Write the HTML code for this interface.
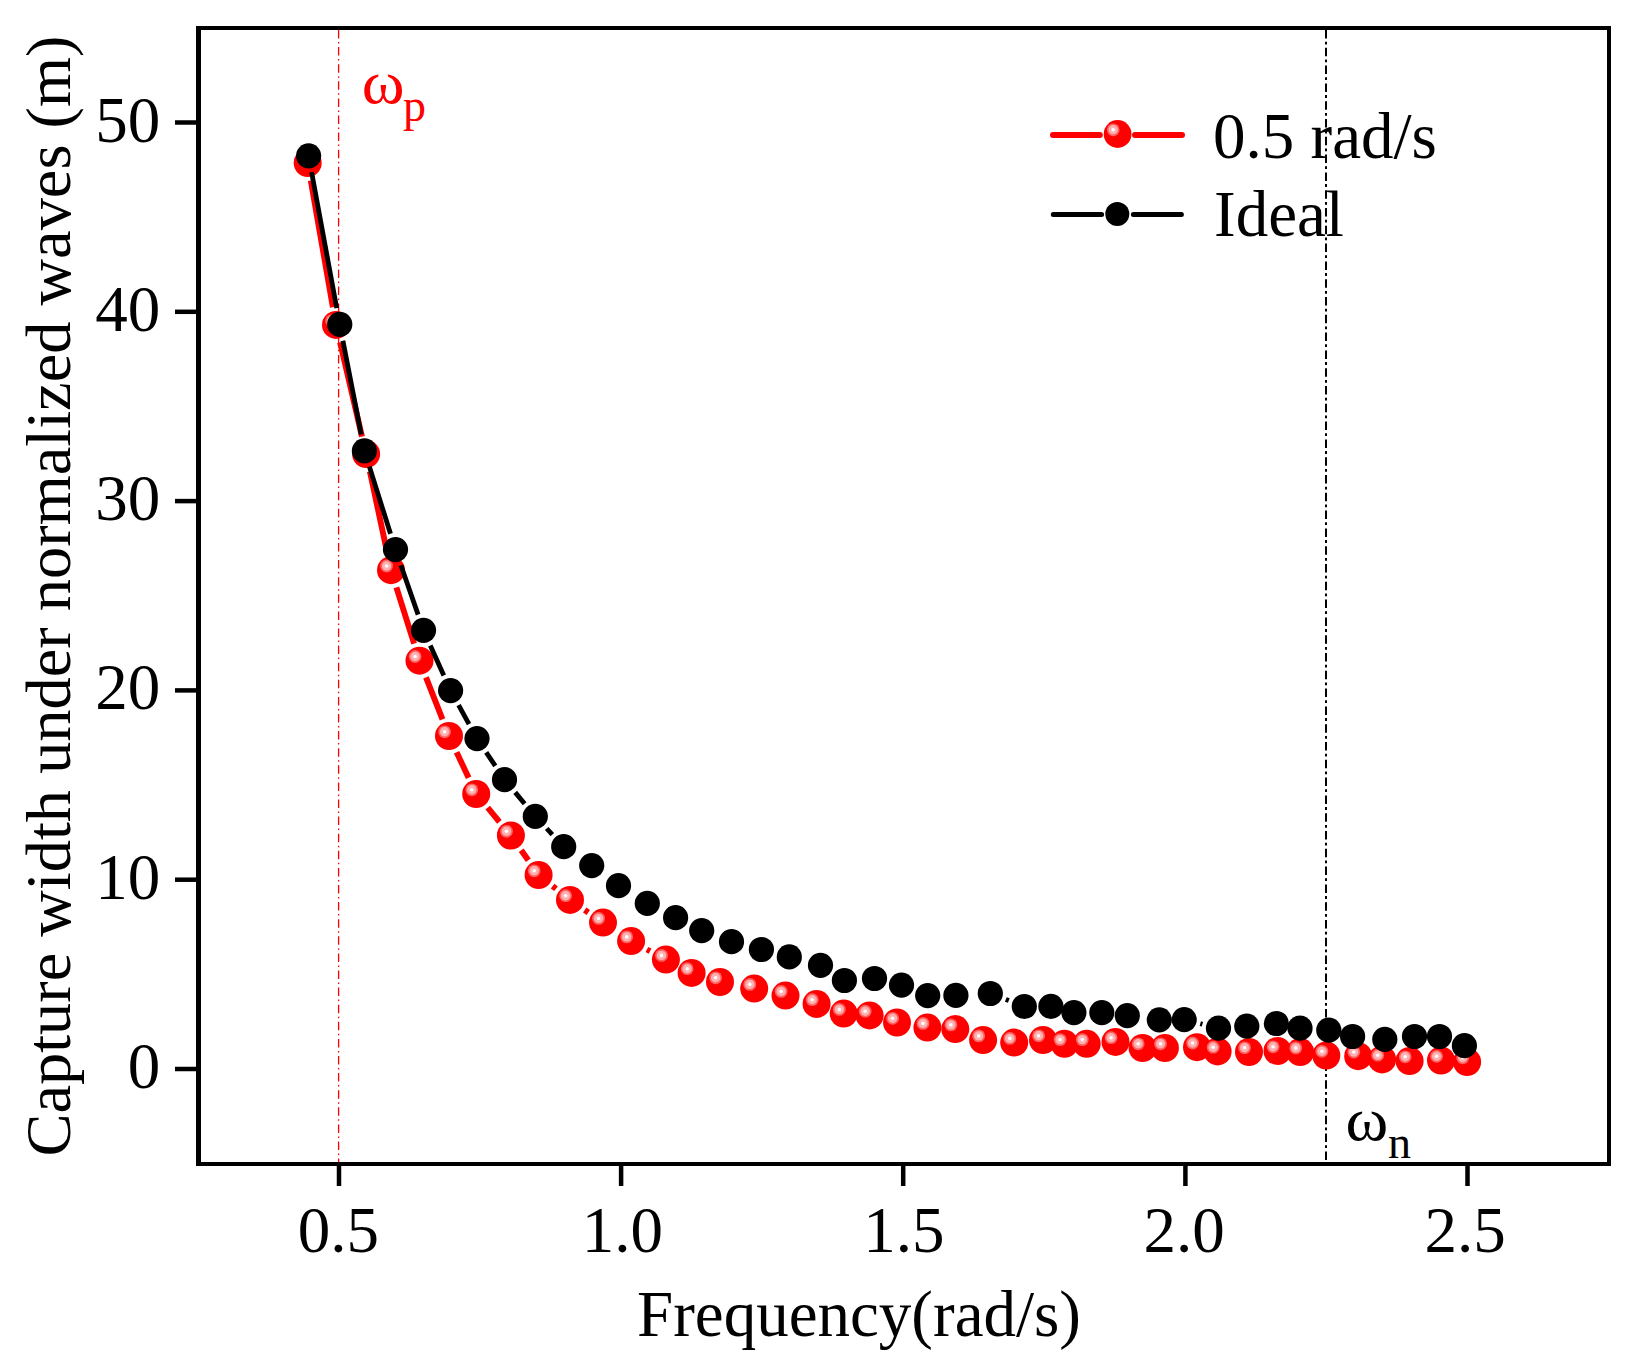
<!DOCTYPE html>
<html><head><meta charset="utf-8"><title>Capture width</title>
<style>html,body{margin:0;padding:0;background:#fff}svg{display:block}</style></head>
<body>
<svg width="1634" height="1372" viewBox="0 0 1634 1372" font-family="'Liberation Serif', 'Times New Roman', serif" font-size="65">
<rect width="1634" height="1372" fill="#fff"/>
<path d="M1053 135.1H1099.8M1135 135.1H1182" stroke="#f00" stroke-width="6" stroke-linecap="round"/>
<circle cx="1117.6" cy="134.0" r="13.9" fill="#f00"/><circle cx="1113.2" cy="129.8" r="6.4" fill="#ff6262"/><circle cx="1113.2" cy="129.8" r="4.7" fill="#ffb0b0"/><circle cx="1113.2" cy="129.8" r="1.8" fill="#fff"/>
<path d="M1053.3 214.5H1101.6M1133.4 214.5H1181.4" stroke="#000" stroke-width="5" stroke-linecap="round"/>
<circle cx="1117.3" cy="214.0" r="12" fill="#000"/>
<text x="1213" y="157.5">0.5 rad/s</text>
<text x="1214" y="236">Ideal</text>
<line x1="338.6" y1="30" x2="338.6" y2="1162" stroke="#f00" stroke-width="1.3" stroke-dasharray="8.5 3.5 1.5 3.6"/>
<line x1="1326" y1="30" x2="1326" y2="1162" stroke="#000" stroke-width="2" stroke-dasharray="8.5 3.2 2.8 3.3"/>
<path d="M196 26H1611V1166H196ZM201 30V1162H1607V30Z" fill="#000" fill-rule="evenodd"/>
<line x1="175" y1="1069.0" x2="197" y2="1069.0" stroke="#000" stroke-width="4.5"/>
<text x="160.3" y="1088.0" text-anchor="end">0</text>
<line x1="175" y1="879.7" x2="197" y2="879.7" stroke="#000" stroke-width="4.5"/>
<text x="160.3" y="898.7" text-anchor="end">10</text>
<line x1="175" y1="690.4" x2="197" y2="690.4" stroke="#000" stroke-width="4.5"/>
<text x="160.3" y="709.4" text-anchor="end">20</text>
<line x1="175" y1="501.1" x2="197" y2="501.1" stroke="#000" stroke-width="4.5"/>
<text x="160.3" y="520.1" text-anchor="end">30</text>
<line x1="175" y1="311.8" x2="197" y2="311.8" stroke="#000" stroke-width="4.5"/>
<text x="160.3" y="330.8" text-anchor="end">40</text>
<line x1="175" y1="122.5" x2="197" y2="122.5" stroke="#000" stroke-width="4.5"/>
<text x="160.3" y="141.5" text-anchor="end">50</text>
<line x1="339.0" y1="1165" x2="339.0" y2="1186" stroke="#000" stroke-width="4.5"/>
<text x="338.3" y="1251.6" text-anchor="middle">0.5</text>
<line x1="621.1" y1="1165" x2="621.1" y2="1186" stroke="#000" stroke-width="4.5"/>
<text x="622.4" y="1251.6" text-anchor="middle">1.0</text>
<line x1="903.2" y1="1165" x2="903.2" y2="1186" stroke="#000" stroke-width="4.5"/>
<text x="903.8" y="1251.6" text-anchor="middle">1.5</text>
<line x1="1185.4" y1="1165" x2="1185.4" y2="1186" stroke="#000" stroke-width="4.5"/>
<text x="1184.0" y="1251.6" text-anchor="middle">2.0</text>
<line x1="1467.5" y1="1165" x2="1467.5" y2="1186" stroke="#000" stroke-width="4.5"/>
<text x="1465.1" y="1251.6" text-anchor="middle">2.5</text>
<text x="859" y="1335.5" text-anchor="middle">Frequency(rad/s)</text>
<text transform="translate(70,596) rotate(-90)" text-anchor="middle" font-size="64.4">Capture width under normalized waves (m)</text>
<text transform="translate(361.8,103.4) scale(1,0.95)" fill="#f00">ω</text><text x="403" y="120.6" font-size="46" fill="#f00">p</text>
<text transform="translate(1345.5,1140) scale(1,0.93)" fill="#000">ω</text><text x="1388" y="1157.5" font-size="46" fill="#000">n</text>
<path d="M310.8 180.6L332.9 307.3M340.1 342.3L362.0 436.6M369.9 471.5L387.2 552.7M396.4 587.3L414.1 643.6M426.0 677.4L442.5 719.3M456.6 752.2L468.6 777.8M487.7 807.7L499.4 821.8M521.2 850.2L528.3 860.3M552.6 886.1L556.0 888.8M584.7 910.0L588.3 912.5M646.9 949.5L650.1 951.2" stroke="#f00" stroke-width="5.9" fill="none"/>
<circle cx="307.7" cy="163.0" r="14" fill="#f00"/><circle cx="303.3" cy="158.8" r="6.4" fill="#ff6262"/><circle cx="303.3" cy="158.8" r="4.7" fill="#ffb0b0"/><circle cx="303.3" cy="158.8" r="1.8" fill="#fff"/>
<circle cx="336.0" cy="324.9" r="14" fill="#f00"/><circle cx="331.6" cy="320.7" r="6.4" fill="#ff6262"/><circle cx="331.6" cy="320.7" r="4.7" fill="#ffb0b0"/><circle cx="331.6" cy="320.7" r="1.8" fill="#fff"/>
<circle cx="366.1" cy="454.0" r="14" fill="#f00"/><circle cx="361.7" cy="449.8" r="6.4" fill="#ff6262"/><circle cx="361.7" cy="449.8" r="4.7" fill="#ffb0b0"/><circle cx="361.7" cy="449.8" r="1.8" fill="#fff"/>
<circle cx="391.0" cy="570.2" r="14" fill="#f00"/><circle cx="386.6" cy="566.0" r="6.4" fill="#ff6262"/><circle cx="386.6" cy="566.0" r="4.7" fill="#ffb0b0"/><circle cx="386.6" cy="566.0" r="1.8" fill="#fff"/>
<circle cx="419.5" cy="660.7" r="14" fill="#f00"/><circle cx="415.1" cy="656.5" r="6.4" fill="#ff6262"/><circle cx="415.1" cy="656.5" r="4.7" fill="#ffb0b0"/><circle cx="415.1" cy="656.5" r="1.8" fill="#fff"/>
<circle cx="449.0" cy="736.0" r="14" fill="#f00"/><circle cx="444.6" cy="731.8" r="6.4" fill="#ff6262"/><circle cx="444.6" cy="731.8" r="4.7" fill="#ffb0b0"/><circle cx="444.6" cy="731.8" r="1.8" fill="#fff"/>
<circle cx="476.2" cy="794.0" r="14" fill="#f00"/><circle cx="471.8" cy="789.8" r="6.4" fill="#ff6262"/><circle cx="471.8" cy="789.8" r="4.7" fill="#ffb0b0"/><circle cx="471.8" cy="789.8" r="1.8" fill="#fff"/>
<circle cx="510.9" cy="835.5" r="14" fill="#f00"/><circle cx="506.5" cy="831.3" r="6.4" fill="#ff6262"/><circle cx="506.5" cy="831.3" r="4.7" fill="#ffb0b0"/><circle cx="506.5" cy="831.3" r="1.8" fill="#fff"/>
<circle cx="538.6" cy="875.0" r="14" fill="#f00"/><circle cx="534.2" cy="870.8" r="6.4" fill="#ff6262"/><circle cx="534.2" cy="870.8" r="4.7" fill="#ffb0b0"/><circle cx="534.2" cy="870.8" r="1.8" fill="#fff"/>
<circle cx="570.0" cy="899.9" r="14" fill="#f00"/><circle cx="565.6" cy="895.7" r="6.4" fill="#ff6262"/><circle cx="565.6" cy="895.7" r="4.7" fill="#ffb0b0"/><circle cx="565.6" cy="895.7" r="1.8" fill="#fff"/>
<circle cx="603.0" cy="922.6" r="14" fill="#f00"/><circle cx="598.6" cy="918.4" r="6.4" fill="#ff6262"/><circle cx="598.6" cy="918.4" r="4.7" fill="#ffb0b0"/><circle cx="598.6" cy="918.4" r="1.8" fill="#fff"/>
<circle cx="631.1" cy="941.1" r="14" fill="#f00"/><circle cx="626.7" cy="936.9" r="6.4" fill="#ff6262"/><circle cx="626.7" cy="936.9" r="4.7" fill="#ffb0b0"/><circle cx="626.7" cy="936.9" r="1.8" fill="#fff"/>
<circle cx="665.9" cy="959.6" r="14" fill="#f00"/><circle cx="661.5" cy="955.4" r="6.4" fill="#ff6262"/><circle cx="661.5" cy="955.4" r="4.7" fill="#ffb0b0"/><circle cx="661.5" cy="955.4" r="1.8" fill="#fff"/>
<circle cx="691.6" cy="972.9" r="14" fill="#f00"/><circle cx="687.2" cy="968.7" r="6.4" fill="#ff6262"/><circle cx="687.2" cy="968.7" r="4.7" fill="#ffb0b0"/><circle cx="687.2" cy="968.7" r="1.8" fill="#fff"/>
<circle cx="720.0" cy="982.0" r="14" fill="#f00"/><circle cx="715.6" cy="977.8" r="6.4" fill="#ff6262"/><circle cx="715.6" cy="977.8" r="4.7" fill="#ffb0b0"/><circle cx="715.6" cy="977.8" r="1.8" fill="#fff"/>
<circle cx="754.2" cy="988.6" r="14" fill="#f00"/><circle cx="749.8" cy="984.4" r="6.4" fill="#ff6262"/><circle cx="749.8" cy="984.4" r="4.7" fill="#ffb0b0"/><circle cx="749.8" cy="984.4" r="1.8" fill="#fff"/>
<circle cx="785.5" cy="995.6" r="14" fill="#f00"/><circle cx="781.1" cy="991.4" r="6.4" fill="#ff6262"/><circle cx="781.1" cy="991.4" r="4.7" fill="#ffb0b0"/><circle cx="781.1" cy="991.4" r="1.8" fill="#fff"/>
<circle cx="816.6" cy="1003.9" r="14" fill="#f00"/><circle cx="812.2" cy="999.7" r="6.4" fill="#ff6262"/><circle cx="812.2" cy="999.7" r="4.7" fill="#ffb0b0"/><circle cx="812.2" cy="999.7" r="1.8" fill="#fff"/>
<circle cx="843.7" cy="1013.6" r="14" fill="#f00"/><circle cx="839.3" cy="1009.4" r="6.4" fill="#ff6262"/><circle cx="839.3" cy="1009.4" r="4.7" fill="#ffb0b0"/><circle cx="839.3" cy="1009.4" r="1.8" fill="#fff"/>
<circle cx="869.6" cy="1015.4" r="14" fill="#f00"/><circle cx="865.2" cy="1011.2" r="6.4" fill="#ff6262"/><circle cx="865.2" cy="1011.2" r="4.7" fill="#ffb0b0"/><circle cx="865.2" cy="1011.2" r="1.8" fill="#fff"/>
<circle cx="897.0" cy="1022.5" r="14" fill="#f00"/><circle cx="892.6" cy="1018.3" r="6.4" fill="#ff6262"/><circle cx="892.6" cy="1018.3" r="4.7" fill="#ffb0b0"/><circle cx="892.6" cy="1018.3" r="1.8" fill="#fff"/>
<circle cx="927.4" cy="1027.6" r="14" fill="#f00"/><circle cx="923.0" cy="1023.4" r="6.4" fill="#ff6262"/><circle cx="923.0" cy="1023.4" r="4.7" fill="#ffb0b0"/><circle cx="923.0" cy="1023.4" r="1.8" fill="#fff"/>
<circle cx="955.3" cy="1029.1" r="14" fill="#f00"/><circle cx="950.9" cy="1024.9" r="6.4" fill="#ff6262"/><circle cx="950.9" cy="1024.9" r="4.7" fill="#ffb0b0"/><circle cx="950.9" cy="1024.9" r="1.8" fill="#fff"/>
<circle cx="983.1" cy="1040.1" r="14" fill="#f00"/><circle cx="978.7" cy="1035.9" r="6.4" fill="#ff6262"/><circle cx="978.7" cy="1035.9" r="4.7" fill="#ffb0b0"/><circle cx="978.7" cy="1035.9" r="1.8" fill="#fff"/>
<circle cx="1014.2" cy="1042.6" r="14" fill="#f00"/><circle cx="1009.8" cy="1038.4" r="6.4" fill="#ff6262"/><circle cx="1009.8" cy="1038.4" r="4.7" fill="#ffb0b0"/><circle cx="1009.8" cy="1038.4" r="1.8" fill="#fff"/>
<circle cx="1043.0" cy="1040.0" r="14" fill="#f00"/><circle cx="1038.6" cy="1035.8" r="6.4" fill="#ff6262"/><circle cx="1038.6" cy="1035.8" r="4.7" fill="#ffb0b0"/><circle cx="1038.6" cy="1035.8" r="1.8" fill="#fff"/>
<circle cx="1064.5" cy="1043.8" r="14" fill="#f00"/><circle cx="1060.1" cy="1039.6" r="6.4" fill="#ff6262"/><circle cx="1060.1" cy="1039.6" r="4.7" fill="#ffb0b0"/><circle cx="1060.1" cy="1039.6" r="1.8" fill="#fff"/>
<circle cx="1086.7" cy="1043.8" r="14" fill="#f00"/><circle cx="1082.3" cy="1039.6" r="6.4" fill="#ff6262"/><circle cx="1082.3" cy="1039.6" r="4.7" fill="#ffb0b0"/><circle cx="1082.3" cy="1039.6" r="1.8" fill="#fff"/>
<circle cx="1115.5" cy="1041.9" r="14" fill="#f00"/><circle cx="1111.1" cy="1037.7" r="6.4" fill="#ff6262"/><circle cx="1111.1" cy="1037.7" r="4.7" fill="#ffb0b0"/><circle cx="1111.1" cy="1037.7" r="1.8" fill="#fff"/>
<circle cx="1142.6" cy="1048.0" r="14" fill="#f00"/><circle cx="1138.2" cy="1043.8" r="6.4" fill="#ff6262"/><circle cx="1138.2" cy="1043.8" r="4.7" fill="#ffb0b0"/><circle cx="1138.2" cy="1043.8" r="1.8" fill="#fff"/>
<circle cx="1164.9" cy="1048.0" r="14" fill="#f00"/><circle cx="1160.5" cy="1043.8" r="6.4" fill="#ff6262"/><circle cx="1160.5" cy="1043.8" r="4.7" fill="#ffb0b0"/><circle cx="1160.5" cy="1043.8" r="1.8" fill="#fff"/>
<circle cx="1197.0" cy="1047.2" r="14" fill="#f00"/><circle cx="1192.6" cy="1043.0" r="6.4" fill="#ff6262"/><circle cx="1192.6" cy="1043.0" r="4.7" fill="#ffb0b0"/><circle cx="1192.6" cy="1043.0" r="1.8" fill="#fff"/>
<circle cx="1217.6" cy="1051.4" r="14" fill="#f00"/><circle cx="1213.2" cy="1047.2" r="6.4" fill="#ff6262"/><circle cx="1213.2" cy="1047.2" r="4.7" fill="#ffb0b0"/><circle cx="1213.2" cy="1047.2" r="1.8" fill="#fff"/>
<circle cx="1249.0" cy="1052.0" r="14" fill="#f00"/><circle cx="1244.6" cy="1047.8" r="6.4" fill="#ff6262"/><circle cx="1244.6" cy="1047.8" r="4.7" fill="#ffb0b0"/><circle cx="1244.6" cy="1047.8" r="1.8" fill="#fff"/>
<circle cx="1277.5" cy="1051.0" r="14" fill="#f00"/><circle cx="1273.1" cy="1046.8" r="6.4" fill="#ff6262"/><circle cx="1273.1" cy="1046.8" r="4.7" fill="#ffb0b0"/><circle cx="1273.1" cy="1046.8" r="1.8" fill="#fff"/>
<circle cx="1300.2" cy="1052.1" r="14" fill="#f00"/><circle cx="1295.8" cy="1047.9" r="6.4" fill="#ff6262"/><circle cx="1295.8" cy="1047.9" r="4.7" fill="#ffb0b0"/><circle cx="1295.8" cy="1047.9" r="1.8" fill="#fff"/>
<circle cx="1326.3" cy="1055.5" r="14" fill="#f00"/><circle cx="1321.9" cy="1051.3" r="6.4" fill="#ff6262"/><circle cx="1321.9" cy="1051.3" r="4.7" fill="#ffb0b0"/><circle cx="1321.9" cy="1051.3" r="1.8" fill="#fff"/>
<circle cx="1358.2" cy="1056.2" r="14" fill="#f00"/><circle cx="1353.8" cy="1052.0" r="6.4" fill="#ff6262"/><circle cx="1353.8" cy="1052.0" r="4.7" fill="#ffb0b0"/><circle cx="1353.8" cy="1052.0" r="1.8" fill="#fff"/>
<circle cx="1382.1" cy="1059.4" r="14" fill="#f00"/><circle cx="1377.7" cy="1055.2" r="6.4" fill="#ff6262"/><circle cx="1377.7" cy="1055.2" r="4.7" fill="#ffb0b0"/><circle cx="1377.7" cy="1055.2" r="1.8" fill="#fff"/>
<circle cx="1409.6" cy="1061.0" r="14" fill="#f00"/><circle cx="1405.2" cy="1056.8" r="6.4" fill="#ff6262"/><circle cx="1405.2" cy="1056.8" r="4.7" fill="#ffb0b0"/><circle cx="1405.2" cy="1056.8" r="1.8" fill="#fff"/>
<circle cx="1441.0" cy="1060.5" r="14" fill="#f00"/><circle cx="1436.6" cy="1056.3" r="6.4" fill="#ff6262"/><circle cx="1436.6" cy="1056.3" r="4.7" fill="#ffb0b0"/><circle cx="1436.6" cy="1056.3" r="1.8" fill="#fff"/>
<circle cx="1467.1" cy="1062.0" r="14" fill="#f00"/><circle cx="1462.7" cy="1057.8" r="6.4" fill="#ff6262"/><circle cx="1462.7" cy="1057.8" r="4.7" fill="#ffb0b0"/><circle cx="1462.7" cy="1057.8" r="1.8" fill="#fff"/>
<path d="M311.6 172.1L336.7 308.1M342.9 340.7L361.2 434.5M369.4 466.6L390.5 533.8M400.9 565.3L418.1 614.6M430.3 645.4L443.8 675.5M458.6 705.1L469.0 724.1M486.2 752.4L495.3 765.9M515.2 792.4L524.6 803.7M546.7 828.5L552.3 834.6M1005.8 999.4L1008.8 1000.6M1200.3 1023.6L1202.4 1024.2" stroke="#000" stroke-width="4.8" fill="none"/>
<circle cx="308.6" cy="155.8" r="12.6" fill="#000"/>
<circle cx="339.75" cy="324.4" r="12.6" fill="#000"/>
<circle cx="364.4" cy="450.8" r="12.6" fill="#000"/>
<circle cx="395.5" cy="549.6" r="12.6" fill="#000"/>
<circle cx="423.5" cy="630.3" r="12.6" fill="#000"/>
<circle cx="450.6" cy="690.6" r="12.6" fill="#000"/>
<circle cx="477.0" cy="738.6" r="12.6" fill="#000"/>
<circle cx="504.5" cy="779.7" r="12.6" fill="#000"/>
<circle cx="535.3" cy="816.4" r="12.6" fill="#000"/>
<circle cx="563.7" cy="846.7" r="12.6" fill="#000"/>
<circle cx="591.7" cy="865.6" r="12.6" fill="#000"/>
<circle cx="618.5" cy="885.7" r="12.6" fill="#000"/>
<circle cx="647.3" cy="903.4" r="12.6" fill="#000"/>
<circle cx="675.6" cy="917.7" r="12.6" fill="#000"/>
<circle cx="701.7" cy="930.6" r="12.6" fill="#000"/>
<circle cx="731.5" cy="941.7" r="12.6" fill="#000"/>
<circle cx="761.4" cy="949.5" r="12.6" fill="#000"/>
<circle cx="789.3" cy="956.9" r="12.6" fill="#000"/>
<circle cx="820.5" cy="965.3" r="12.6" fill="#000"/>
<circle cx="844.4" cy="980.5" r="12.6" fill="#000"/>
<circle cx="874.5" cy="978.5" r="12.6" fill="#000"/>
<circle cx="901.5" cy="985.1" r="12.6" fill="#000"/>
<circle cx="927.7" cy="995.6" r="12.6" fill="#000"/>
<circle cx="955.9" cy="995.4" r="12.6" fill="#000"/>
<circle cx="990.3" cy="993.5" r="12.6" fill="#000"/>
<circle cx="1024.3" cy="1006.5" r="12.6" fill="#000"/>
<circle cx="1050.9" cy="1006.4" r="12.6" fill="#000"/>
<circle cx="1073.9" cy="1012.6" r="12.6" fill="#000"/>
<circle cx="1101.8" cy="1012.6" r="12.6" fill="#000"/>
<circle cx="1127.3" cy="1015.6" r="12.6" fill="#000"/>
<circle cx="1159.3" cy="1019.8" r="12.6" fill="#000"/>
<circle cx="1184.2" cy="1019.6" r="12.6" fill="#000"/>
<circle cx="1218.5" cy="1028.2" r="12.6" fill="#000"/>
<circle cx="1246.8" cy="1026.2" r="12.6" fill="#000"/>
<circle cx="1276.4" cy="1023.5" r="12.6" fill="#000"/>
<circle cx="1300.0" cy="1028.2" r="12.6" fill="#000"/>
<circle cx="1328.8" cy="1030.2" r="12.6" fill="#000"/>
<circle cx="1352.6" cy="1036.5" r="12.6" fill="#000"/>
<circle cx="1384.8" cy="1039.4" r="12.6" fill="#000"/>
<circle cx="1414.5" cy="1036.5" r="12.6" fill="#000"/>
<circle cx="1439.5" cy="1036.5" r="12.6" fill="#000"/>
<circle cx="1464.4" cy="1045.7" r="12.6" fill="#000"/>
</svg>
</body></html>
